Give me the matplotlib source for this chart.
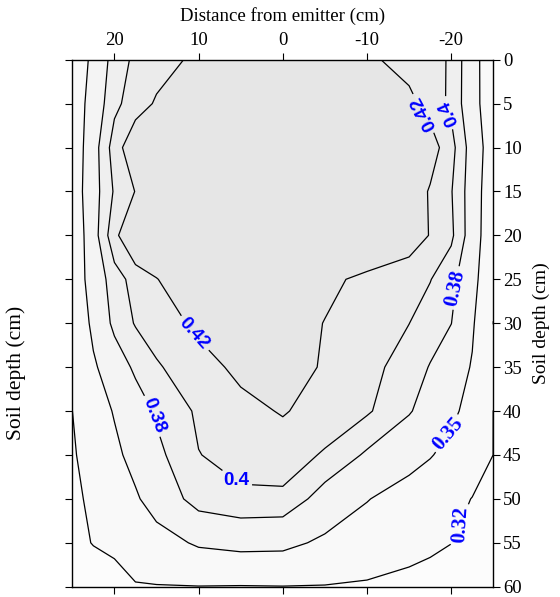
import matplotlib
matplotlib.use("Agg")
import matplotlib.pyplot as plt
import numpy as np

plt.rcParams['font.family'] = ['Liberation Serif', 'DejaVu Serif']
plt.rcParams['axes.unicode_minus'] = False

# distance from emitter (cm), in plot order (left -> right)
x_cm = [25, 22.5, 20, 17.5, 15, 10, 5, 0, -5, -10, -15, -17.5, -20, -22.5, -25]
# soil depth (cm)
depth_cm = [0, 5, 10, 15, 20, 25, 30, 35, 40, 45, 50, 55, 60]

# soil water content, one row per depth
row_00 = [0.328, 0.357, 0.390, 0.404, 0.411, 0.425, 0.432, 0.435, 0.432, 0.424, 0.412, 0.406, 0.398, 0.362, 0.328]
row_05 = [0.329, 0.364, 0.395, 0.410, 0.4225, 0.430, 0.435, 0.437, 0.435, 0.430, 0.4255, 0.412, 0.3956, 0.3635, 0.326]
row_10 = [0.328, 0.370, 0.4094, 0.437, 0.440, 0.442, 0.443, 0.443, 0.443, 0.442, 0.440, 0.430, 0.4073, 0.3695, 0.332]
row_15 = [0.331, 0.3705, 0.4022, 0.4207, 0.430, 0.438, 0.440, 0.440, 0.440, 0.438, 0.434, 0.418, 0.4013, 0.3683, 0.3267]
row_20 = [0.325, 0.370, 0.4138, 0.445, 0.445, 0.445, 0.445, 0.445, 0.445, 0.443, 0.434, 0.4188, 0.4041, 0.3676, 0.325]
row_25 = [0.3305, 0.363, 0.3914, 0.4074, 0.4191, 0.440, 0.442, 0.440, 0.425, 0.415, 0.4055, 0.4008, 0.3869, 0.360, 0.324]
row_30 = [0.3227, 0.3568, 0.3857, 0.4015, 0.4092, 0.4246, 0.432, 0.430, 0.4194, 0.4098, 0.4002, 0.3904, 0.3804, 0.3533, 0.3198]
row_35 = [0.3257, 0.346, 0.3662, 0.3843, 0.3978, 0.412, 0.4249, 0.428, 0.4182, 0.4068, 0.3907, 0.3788, 0.3635, 0.3482, 0.327]
row_40 = [0.3199, 0.336, 0.3519, 0.3679, 0.3829, 0.4033, 0.4141, 0.4215, 0.4122, 0.4027, 0.382, 0.3691, 0.3562, 0.3397, 0.3199]
row_45 = [0.3173, 0.3307, 0.3441, 0.3588, 0.3744, 0.3995, 0.406, 0.410, 0.3978, 0.3767, 0.360, 0.3517, 0.3415, 0.331, 0.3199]
row_50 = [0.3144, 0.3251, 0.3359, 0.3466, 0.3619, 0.390, 0.397, 0.396, 0.3692, 0.3511, 0.3384, 0.3323, 0.3261, 0.3195, 0.314]
row_55 = [0.3122, 0.3211, 0.3257, 0.3324, 0.3392, 0.3535, 0.358, 0.357, 0.3451, 0.3368, 0.3286, 0.3245, 0.3203, 0.316, 0.312]
row_60 = [0.300, 0.305, 0.310, 0.3185, 0.319, 0.3195, 0.319, 0.3195, 0.319, 0.317, 0.313, 0.311, 0.309, 0.307, 0.305]

line_levels = [0.32, 0.35, 0.38, 0.40, 0.42]
x_ticks = [20, 10, 0, -10, -20]
x_tick_labels = ["20", "10", "0", "-10", "-20"]
y_ticks = [0, 5, 10, 15, 20, 25, 30, 35, 40, 45, 50, 55, 60]

# contour labels: (x, depth), rotation, font family, size
label_pos = [(-16.4, 6.3), (-19.8, 6.0), (10.4, 31.1), (16.0, 40.7),
             (6.3, 48.9), (-20.7, 26.0), (-19.6, 42.6), (-20.7, 52.8)]
label_rot = [118, 114, -48, -69, 0, 78, 50, 86]
label_family = ['Liberation Sans'] * 5 + ['Liberation Serif'] * 3
label_size = [13.5] * 5 + [15] * 3

Z = np.array([row_00, row_05, row_10, row_15, row_20, row_25, row_30,
              row_35, row_40, row_45, row_50, row_55, row_60])
X, Y = np.meshgrid(np.array(x_cm), np.array(depth_cm))

fig = plt.figure(figsize=(5.6, 5.97), dpi=100)
ax = fig.add_axes([0.1291, 0.01725, 0.7518, 0.8827])

fill_levels = [0.0] + line_levels + [1.0]
fill_colors = ['#fcfcfc', '#f9f9f9', '#f4f4f4', '#efefef', '#ebebeb', '#e6e6e6']
ax.contourf(X, Y, Z, levels=fill_levels, colors=fill_colors)
cs = ax.contour(X, Y, Z, levels=line_levels, colors='black', linewidths=0.9)

ax.set_xlim(25, -25)
ax.set_ylim(60, 0)

texts = ax.clabel(cs, levels=line_levels, manual=label_pos, inline=True,
                  inline_spacing=5, fmt=lambda v: f"{v:g}", fontsize=14,
                  colors='#0000ff')
for t, r, fam, sz in zip(texts, label_rot, label_family, label_size):
    t.set_rotation(r)
    t.set_fontfamily([fam, 'DejaVu Sans'])
    t.set_fontweight('bold')
    t.set_fontsize(sz)

ax.set_xticks(x_ticks)
ax.set_xticklabels(x_tick_labels)
ax.set_yticks(y_ticks)
ax.xaxis.set_label_position('top')
ax.yaxis.set_label_position('right')
ax.tick_params(axis='x', top=True, bottom=True, labeltop=True, labelbottom=False,
               direction='out', length=5, width=0.8, labelsize=13.5, pad=3)
ax.tick_params(axis='y', left=True, right=True, labelleft=False, labelright=True,
               direction='out', length=5, width=0.8, labelsize=13.5, pad=2)
ax.set_xlabel("Distance from emitter (cm)", fontsize=13.5, labelpad=8)
ax.set_ylabel("Soil depth (cm)", fontsize=14, labelpad=8)
for s in ax.spines.values():
    s.set_linewidth(1.0)

fig.text(16 / 560, 1 - 373 / 597, "Soil depth (cm)", rotation=90,
         ha='center', va='center', fontsize=15.5)

fig.savefig("out.png", dpi=100)
